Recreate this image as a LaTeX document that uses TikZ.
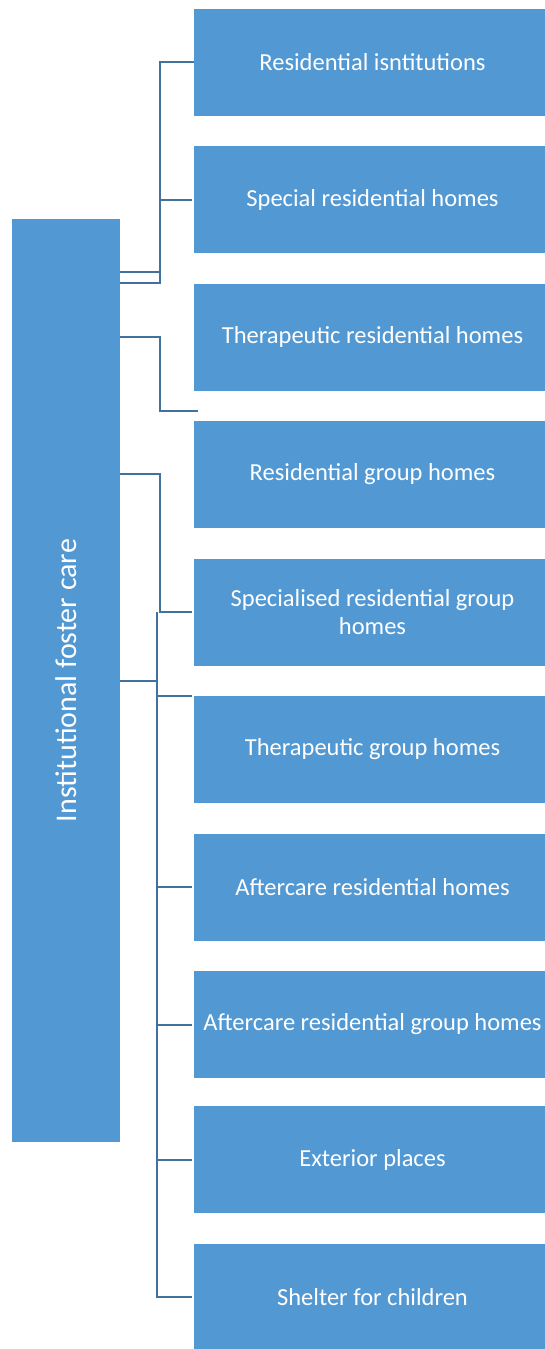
\documentclass[tikz,border=0pt]{standalone}
\usepackage{fontspec}
\setmainfont{Carlito}
\usetikzlibrary{positioning}
\definecolor{boxblue}{RGB}{82,152,211}
\definecolor{linkblue}{RGB}{65,113,156}
\tikzset{
  catbox/.style={fill=boxblue, text=white, minimum width=351pt, minimum height=107pt,
    inner sep=0pt, align=center, font=\fontsize{24.5}{28}\selectfont},
  mainbox/.style={fill=boxblue, text=white, minimum width=108pt, minimum height=923pt,
    inner sep=0pt, font=\fontsize{30}{34}\selectfont},
  link/.style={draw=linkblue, line width=2pt}
}
\begin{document}
\begin{tikzpicture} [x=1pt, y=-1pt, node distance = 137.5pt, on grid]
        \useasboundingbox (0,0) rectangle (545,1349);
        \node (ifc) [mainbox] at (66,680.5) {\rotatebox{90}{Institutional foster care}};

        \node (r1) [catbox] at (369.5,62) {\hspace{6pt}Residential isntitutions};
        \node (r2) [catbox, below = of r1] {\hspace{6pt}Special residential homes};
        \node (r3) [catbox, below = of r2] {\hspace{6pt}Therapeutic residential homes};
        \node (r4) [catbox, below = of r3] {\hspace{6pt}Residential group homes};
        \node (r5) [catbox, below = of r4] {\hspace{6pt}Specialised residential group\\\hspace{6pt}homes};
        \node (r6) [catbox, below = of r5] {\hspace{6pt}Therapeutic group homes};
        \node (r7) [catbox, below = of r6] {\hspace{6pt}Aftercare residential homes};
        \node (r8) [catbox, below = of r7] {\hspace{6pt}Aftercare residential group homes};
        \node (r9) [catbox, below = of r8, yshift=2.5pt] {\hspace{6pt}Exterior places};
        \node (r10) [catbox, below = of r9] {\hspace{6pt}Shelter for children};

        % bend points
        \coordinate (k1) at (160,62);
        \coordinate (k2) at (160,411);
        \coordinate (e2) at (198,411);
        \coordinate (k3) at (157,612);
        \coordinate (k4) at (157,1297);

        \draw [link] (ifc.east |- 0,272) -| (k1) -- (r1.west);
        \draw [link] (ifc.east |- 0,283) -| (k1);
        \draw [link] (k1 |- r2) -- ([xshift=-2pt]r2.west);

        \draw [link] (ifc.east |- 0,337) -| (k2) -- (e2);

        \draw [link] (ifc.east |- 0,474) -| (160,612) -- ([xshift=-2pt]r5.west);
        \draw [link] (ifc.east |- 0,681) -- (k3 |- 0,681);
        \draw [link] (k3) -- (k4) -- ([xshift=-2pt]r10.west);
        \draw [link] (k3 |- 0,696) -- ([xshift=-2pt]r6.north west |- 0,696);
        \draw [link] (k3 |- r7) -- ([xshift=-2pt]r7.west);
        \draw [link] (k3 |- r8) -- ([xshift=-2pt]r8.west);
        \draw [link] (k3 |- r9) -- ([xshift=-2pt]r9.west);
\end{tikzpicture}
\end{document}
